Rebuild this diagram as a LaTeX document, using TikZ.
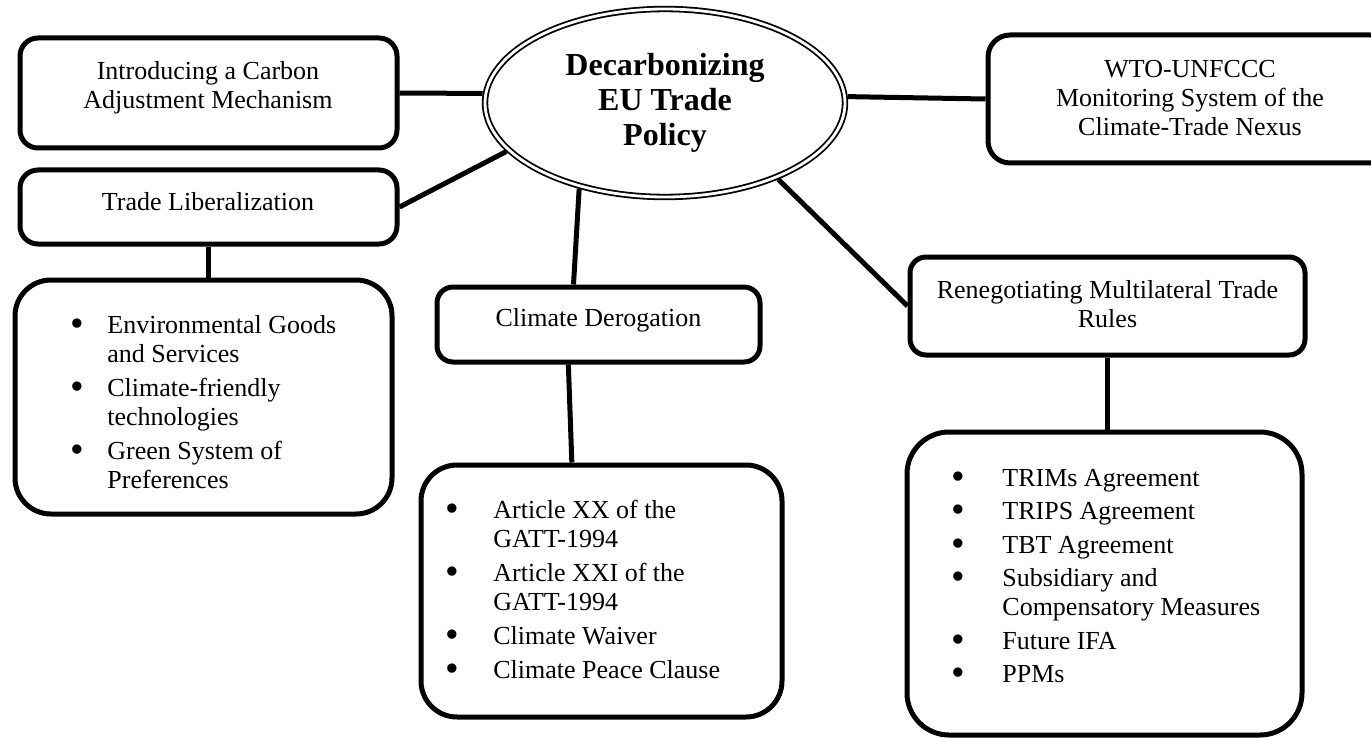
\documentclass[tikz,border=0pt]{standalone}
\usepackage{fontspec}
\usepackage{graphicx}
\setmainfont{Liberation Serif}
\usetikzlibrary{fit,shapes.geometric}
\newcommand{\blt}{\makebox[0pt]{\raisebox{-0.12em}{\scalebox{1.5}{\textbullet}}}}
\tikzset{
  box/.style={draw, line width=2.5pt, inner sep=0pt, outer sep=1.25pt},
  link/.style={line width=2.5pt},
  txt/.style={inner sep=0pt, font=\fontsize{13}{14.5}\selectfont},
  hub/.style={draw, ellipse, double, line width=0.9pt, double distance=1.4pt,
    inner sep=0pt, outer sep=1.6pt, align=center,
    font=\bfseries\fontsize{16}{17.5}\selectfont},
}
\begin{document}
\begin{tikzpicture}[x=0.5pt, y=-0.5pt]
\useasboundingbox (0,0) rectangle (1371,738);
\clip (0,0) rectangle (1371,738);

% central ellipse
\node[hub, minimum width=180pt, minimum height=94pt] (el) at (665,103)
  {Decarbonizing\\EU Trade\\Policy};

% boxes
\node[box, rounded corners=9pt,  fit={(20,38) (397,148)}]   (b1)  {};
\node[box, rounded corners=9pt,  fit={(20,170) (397,244)}]  (b2)  {};
\node[box, rounded corners=18pt, fit={(15,280) (392,514)}]  (tl)  {};
\node[box, rounded corners=11pt, fit={(988,35) (1392,163)}] (wto) {};
\node[box, rounded corners=8pt,  fit={(437,287) (760,362)}] (cd)  {};
\node[box, rounded corners=18pt, fit={(421,465) (782,717)}] (cl)  {};
\node[box, rounded corners=8pt,  fit={(910,257) (1305,355)}] (rn) {};
\node[box, rounded corners=21pt, fit={(907,432) (1302,735)}] (rl) {};

% texts
\node[txt, anchor=base] (t1) at (208,80)
  {\begin{tabular}[t]{@{}c@{}}Introducing a Carbon\\Adjustment Mechanism\end{tabular}};
\node[txt, anchor=base] (t2) at (208,210) {Trade Liberalization};
\node[txt, anchor=base] (t3) at (1190,78)
  {\begin{tabular}[t]{@{}c@{}}WTO-UNFCCC\\Monitoring System of the\\Climate-Trade Nexus\end{tabular}};
\node[txt, anchor=base] (t4) at (598.5,326) {Climate Derogation};
\node[txt, anchor=base] (t5) at (1107.5,298)
  {\begin{tabular}[t]{@{}c@{}}Renegotiating Multilateral Trade\\Rules\end{tabular}};

\node[txt, anchor=base west] (t6) at (77,333)
  {\begin{tabular}[t]{@{}l@{\hspace{15pt}}l@{}}
  \blt & Environmental Goods\\
       & and Services\\[2.5pt]
  \blt & Climate-friendly\\
       & technologies\\[2.5pt]
  \blt & Green System of\\
       & Preferences
  \end{tabular}};

\node[txt, anchor=base west] (t7) at (452,518)
  {\begin{tabular}[t]{@{}l@{\hspace{20.5pt}}l@{}}
  \blt & Article XX of the\\
       & GATT-1994\\[2.5pt]
  \blt & Article XXI of the\\
       & GATT-1994\\[2.5pt]
  \blt & Climate Waiver\\[2.5pt]
  \blt & Climate Peace Clause
  \end{tabular}};

\node[txt, anchor=base west] (t8) at (958,486)
  {\begin{tabular}[t]{@{}l@{\hspace{22pt}}l@{}}
  \blt & TRIMs Agreement\\[2.25pt]
  \blt & TRIPS Agreement\\[2.25pt]
  \blt & TBT Agreement\\[2.25pt]
  \blt & Subsidiary and\\
       & Compensatory Measures\\[2.25pt]
  \blt & Future IFA\\[2.25pt]
  \blt & PPMs
  \end{tabular}};

% connectors
\draw[link] (b1.east) -- (el.177);
\draw[link] (b2.east) -- (el.197);
\draw[link] (el.2) -- (wto.west);
\draw[link] (el.225) -- (cd.122);
\draw[link] (cd.233) -- (cl.103);
\draw[link] (el.326) -- (rn.west);
\draw[link] (rn.south) -- (rn.south |- rl.north);
\draw[link] (b2.south) -- (b2.south |- tl.north);
\end{tikzpicture}
\end{document}
